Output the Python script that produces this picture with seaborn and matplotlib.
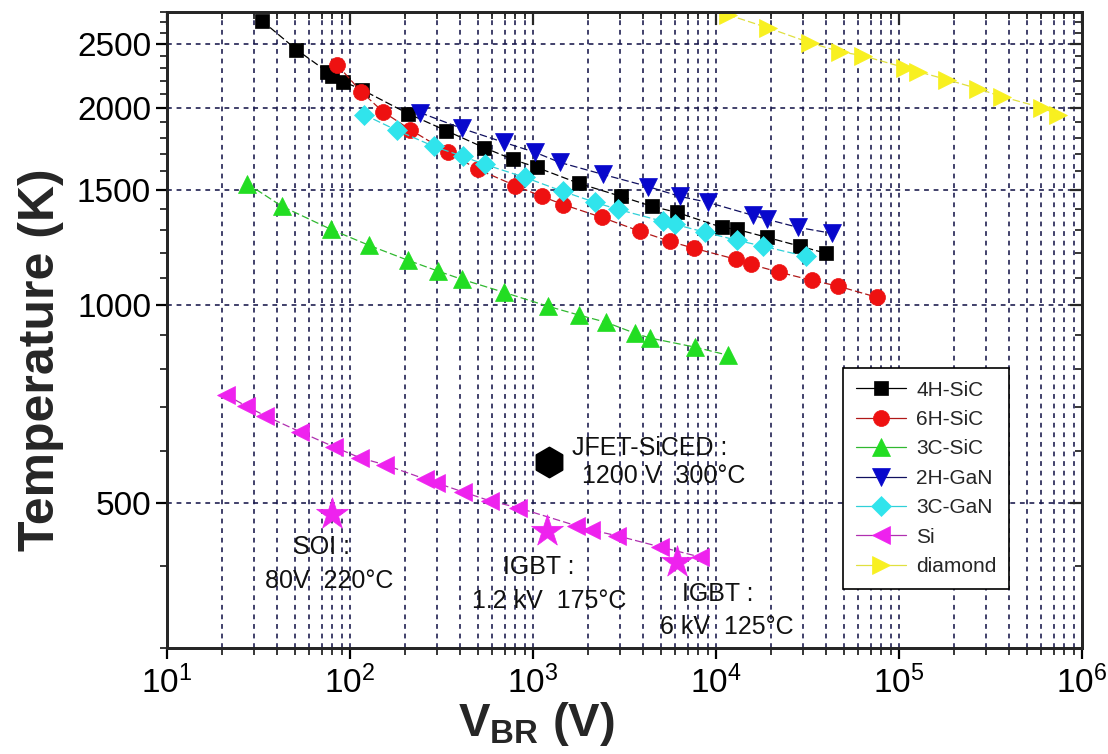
import numpy as np
import pandas as pd
import matplotlib
matplotlib.use('Agg')
import matplotlib.pyplot as plt
from matplotlib.ticker import LogLocator, FixedLocator, FuncFormatter, NullFormatter
import seaborn as sns

sns.set_style('ticks')
plt.rcParams['font.family'] = ['Liberation Sans', 'DejaVu Sans']
plt.rcParams['mathtext.fontset'] = 'custom'
plt.rcParams['mathtext.rm'] = 'Liberation Sans'
plt.rcParams['mathtext.bf'] = 'Liberation Sans:bold'

# 数据
v_4h = [33, 51, 75, 80, 92, 116, 207, 335, 540, 778, 1050, 1780, 3030, 4470, 6120,
        10800, 13000, 19000, 28800, 39900]
t_4h = [2716, 2453, 2271, 2239, 2193, 2132, 1960, 1846, 1739, 1668, 1622, 1534, 1465, 1415, 1385,
        1314, 1305, 1269, 1230, 1200]

v_6h = [85, 115, 151, 213, 343, 501, 798, 1120, 1460, 2380, 3850, 5610, 7590, 12850, 15500,
        22100, 33500, 46500, 75900]
t_6h = [2327, 2117, 1974, 1853, 1710, 1611, 1522, 1465, 1424, 1361, 1296, 1251, 1221, 1175, 1154,
        1123, 1091, 1069, 1028]

v_3csic = [27.4, 42.5, 78.7, 127, 207, 303, 409, 695, 1210, 1780, 2500, 3610, 4360, 7670, 11600]
t_3csic = [1533, 1415, 1305, 1234, 1171, 1127, 1095, 1046, 996, 966, 942, 906, 891, 863, 839]

v_2hgan = [241, 409, 695, 1030, 1400, 2410, 4250, 6350, 9040, 15900, 19000, 28100, 43000]
t_2hgan = [1967, 1860, 1771, 1710, 1651, 1583, 1517, 1465, 1435, 1371, 1352, 1314, 1287]

v_3cgan = [119, 181, 288, 414, 547, 904, 1460, 2180, 2910, 5130, 5970, 8710, 13000, 18100, 31000]
t_3cgan = [1953, 1847, 1746, 1686, 1639, 1566, 1491, 1435, 1400, 1342, 1328, 1292, 1256, 1230, 1187]

v_si = [21, 27, 34.4, 53.3, 81.8, 113.5, 155, 257, 295, 415, 582, 828, 1720, 2080, 2880, 4940, 8180]
t_si = [730, 702, 678, 641, 608, 585, 571, 543, 536, 519, 503, 491, 461, 454, 445, 428, 413]

v_dia = [11600, 19200, 32700, 47600, 63600, 108000, 127000, 183000, 270000, 365000, 604000, 739000]
t_dia = [2773, 2649, 2513, 2436, 2401, 2302, 2271, 2208, 2139, 2080, 2001, 1953]

# 器件点
star_v = [80, 1200, 6100]      # SOI, IGBT 1.2kV, IGBT 6kV
star_t = [480, 453, 406]
jfet_v = [1220]
jfet_t = [576]

y_major = [500, 1000, 1500, 2000, 2500]
y_lim = (300, 2800)
x_lim = (10, 1e6)

fig = plt.figure(figsize=(11.08, 7.54), dpi=100)
ax = fig.add_axes([0.1507, 0.1406, 0.8258, 0.8435])
ax.set_xscale('log')
ax.set_yscale('log')

series = [
    ('4H-SiC', v_4h, t_4h, 's', 10.5, 'black', 'black'),
    ('6H-SiC', v_6h, t_6h, 'o', 11.5, '#ee1111', '#b01818'),
    ('3C-SiC', v_3csic, t_3csic, '^', 12.5, '#22dd22', '#30b830'),
    ('2H-GaN', v_2hgan, t_2hgan, 'v', 12.5, '#0808cc', '#101060'),
    ('3C-GaN', v_3cgan, t_3cgan, 'D', 10, '#30e4ec', '#30d0d8'),
    ('Si', v_si, t_si, '<', 12.5, '#ee22ee', '#b030b0'),
    ('diamond', v_dia, t_dia, '>', 12.5, '#f8f020', '#e0e040'),
]
for name, v, t, m, ms, fc, lc in series:
    sns.lineplot(x=v, y=t, ax=ax, estimator=None, sort=False, color=lc,
                 marker=m, markersize=ms, markerfacecolor=fc, markeredgecolor=fc,
                 markeredgewidth=0.5, linewidth=0.9, linestyle=(0, (6, 2.5)), label=name)

sns.scatterplot(x=star_v, y=star_t, ax=ax, marker='*', s=580, color='#ee22ee',
                edgecolor='#ee22ee', linewidth=0.5, zorder=4)
sns.scatterplot(x=jfet_v, y=jfet_t, ax=ax, marker='h', s=450, color='black',
                edgecolor='black', zorder=4)

# 标注
txt = dict(fontsize=18, ha='left', va='center', color='#111111')
ax.text(49, 428, 'SOI :', **txt)
ax.text(34.3, 380, '80V  220°C', **txt)
ax.text(1630, 605, 'JFET-SiCED :', **txt)
ax.text(1850, 549, '1200 V  300°C', **txt)
ax.text(686, 399, 'IGBT :', **txt)
ax.text(464, 354, '1.2 kV  175°C', **txt)
ax.text(6500, 363, 'IGBT :', **txt)
ax.text(4940, 323, '6 kV  125°C', **txt)

ax.set_xlim(*x_lim)
ax.set_ylim(*y_lim)

ax.xaxis.set_major_locator(LogLocator(base=10, numticks=10))
ax.xaxis.set_minor_locator(LogLocator(base=10, subs=np.arange(2, 10), numticks=100))
ax.xaxis.set_minor_formatter(NullFormatter())
y_minor = [v for v in range(300, 2900, 100) if v not in y_major]
ax.yaxis.set_major_locator(FixedLocator(y_major))
ax.yaxis.set_major_formatter(FuncFormatter(lambda v, p: f'{v:.0f}'))
ax.yaxis.set_minor_locator(FixedLocator(y_minor))
ax.yaxis.set_minor_formatter(NullFormatter())

grid_kw = dict(color='#16164a', linestyle=(0, (3, 3)), linewidth=1.15)
ax.grid(True, which='major', axis='y', **grid_kw)
ax.grid(True, which='both', axis='x', **grid_kw)
ax.set_axisbelow(True)

ax.tick_params(which='major', direction='out', length=8, width=1.6, labelsize=24, colors='black')
ax.tick_params(which='minor', direction='out', length=5, width=1.3)
ax.tick_params(axis='x', which='major', pad=5)
for sp in ax.spines.values():
    sp.set_linewidth(1.8)
    sp.set_color('black')

# 顶部和右侧朝内的刻度
axr = ax.twinx()
axr.set_yscale('log')
axr.set_ylim(*y_lim)
axr.yaxis.set_major_locator(FixedLocator(y_major))
axr.yaxis.set_minor_locator(FixedLocator(y_minor))
axr.tick_params(which='major', direction='in', length=9, width=1.6, labelright=False)
axr.tick_params(which='minor', direction='in', length=5, width=1.3, labelright=False)
axt = ax.twiny()
axt.set_xscale('log')
axt.set_xlim(*x_lim)
axt.xaxis.set_major_locator(LogLocator(base=10, numticks=10))
axt.xaxis.set_minor_locator(LogLocator(base=10, subs=np.arange(2, 10), numticks=100))
axt.tick_params(which='major', direction='in', length=9, width=1.6, labeltop=False)
axt.tick_params(which='minor', direction='in', length=5, width=1.3, labeltop=False)
for a in (axr, axt):
    for sp in a.spines.values():
        sp.set_linewidth(1.8)

ax.set_xlabel(r'$\mathbf{V_{BR}}$ (V)', fontsize=34, fontweight='bold')
ax.xaxis.set_label_coords(0.404, -0.082)
ax.set_ylabel('Temperature (K)', fontsize=36, fontweight='bold')
ax.yaxis.set_label_coords(-0.112, 0.453)

leg = ax.legend(loc='upper left', bbox_to_anchor=(0.739, 0.44), borderaxespad=0,
                fontsize=15, frameon=True, fancybox=False, framealpha=1,
                handlelength=2.4, handletextpad=0.5, labelspacing=0.5, borderpad=0.6)
leg.get_frame().set_edgecolor('black')
leg.get_frame().set_linewidth(1.2)
for ln in leg.get_lines():
    ln.set_linestyle('-')

plt.savefig('out.png', dpi=100)
